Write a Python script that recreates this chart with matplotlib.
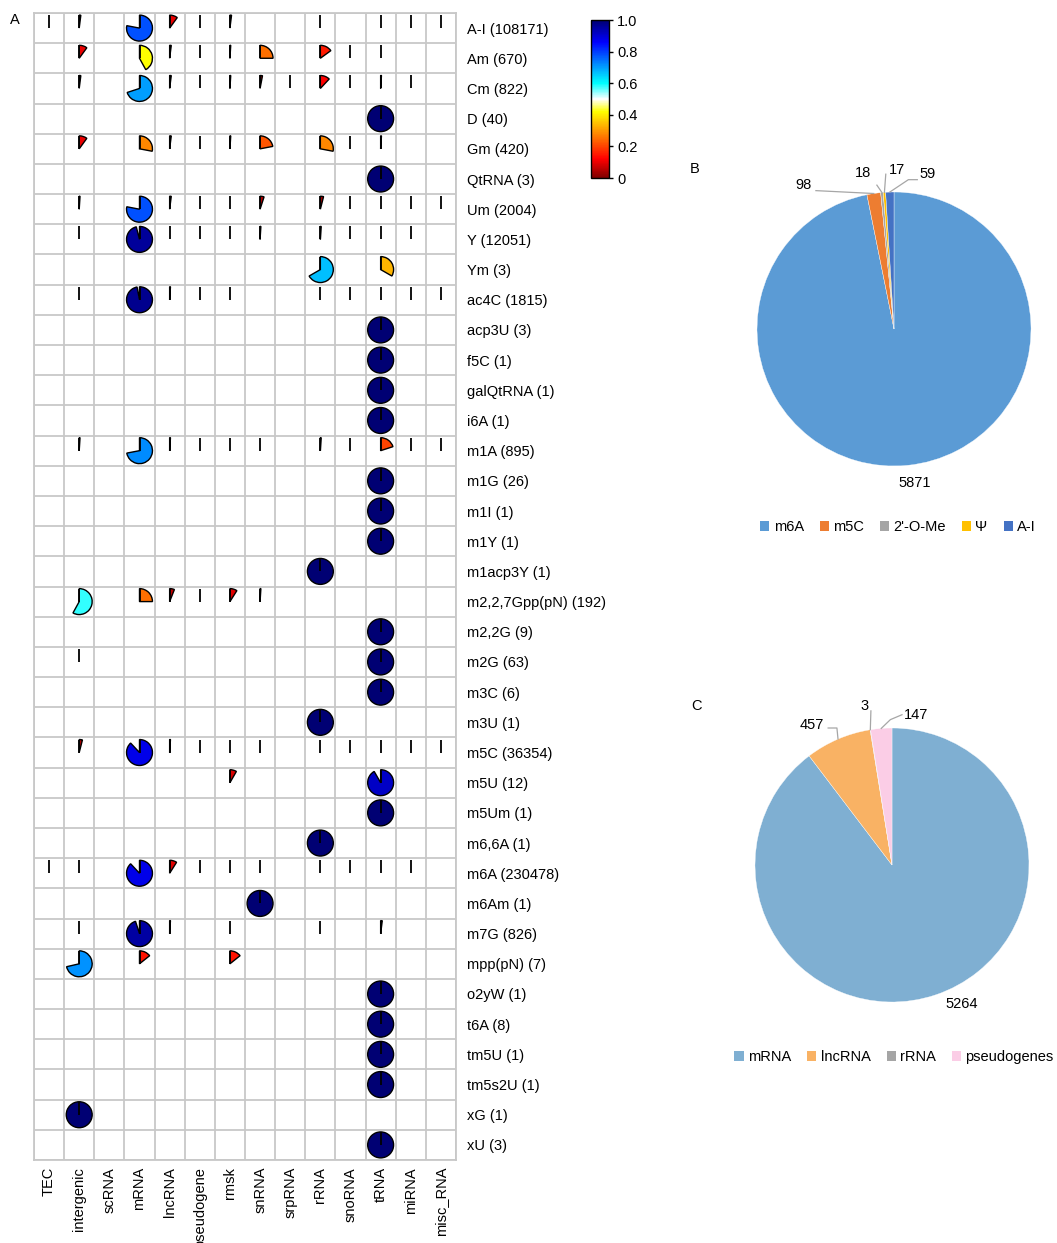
import numpy as np
import matplotlib
matplotlib.use("Agg")
import matplotlib.pyplot as plt
from matplotlib.patches import Wedge, Patch
from matplotlib.colors import LinearSegmentedColormap, Normalize
from matplotlib.cm import ScalarMappable

plt.rcParams['font.family'] = ['Liberation Sans', 'DejaVu Sans']
plt.rcParams['font.size'] = 10.5

n = np.nan

# modifications (rows) and RNA biotypes (columns)
mods = ['A-I', 'Am', 'Cm', 'D', 'Gm', 'QtRNA', 'Um', 'Y', 'Ym', 'ac4C',
        'acp3U', 'f5C', 'galQtRNA', 'i6A', 'm1A', 'm1G', 'm1I', 'm1Y',
        'm1acp3Y', 'm2,2,7Gpp(pN)', 'm2,2G', 'm2G', 'm3C', 'm3U', 'm5C',
        'm5U', 'm5Um', 'm6,6A', 'm6A', 'm6Am', 'm7G', 'mpp(pN)', 'o2yW',
        't6A', 'tm5U', 'tm5s2U', 'xG', 'xU']
mod_counts = [108171, 670, 822, 40, 420, 3, 2004, 12051, 3, 1815,
              3, 1, 1, 1, 895, 26, 1, 1,
              1, 192, 9, 63, 6, 1, 36354,
              12, 1, 1, 230478, 1, 826, 7, 1,
              8, 1, 1, 1, 3]
biotypes = ['TEC', 'intergenic', 'scRNA', 'mRNA', 'lncRNA', 'pseudogene',
            'rmsk', 'snRNA', 'srpRNA', 'rRNA', 'snoRNA', 'tRNA', 'miRNA',
            'misc_RNA']

# fraction of sites of each modification falling in each biotype
#        TEC  interg scRNA mRNA  lncRNA pseudo rmsk  snRNA srpRNA rRNA  snoRNA tRNA  miRNA misc
frac = np.array([
    [0,    0.02,  n,   0.78,  0.10,  0,    0.02,  n,    n,    0,     n,    0,     0,    0],     # A-I
    [n,    0.10,  n,   0.42,  0.02,  0,    0.01,  0.25, n,    0.15,  0,    0,     n,    n],     # Am
    [n,    0.02,  n,   0.70,  0.02,  0,    0.01,  0.03, 0,    0.12,  0,    0.01,  0,    n],     # Cm
    [n,    n,     n,   n,     n,     n,    n,     n,    n,    n,     n,    1,     n,    n],     # D
    [n,    0.10,  n,   0.28,  0.02,  0,    0.01,  0.22, n,    0.28,  0,    0.01,  n,    n],     # Gm
    [n,    n,     n,   n,     n,     n,    n,     n,    n,    n,     n,    1,     n,    n],     # QtRNA
    [n,    0.01,  n,   0.78,  0.02,  0,    0,     0.05, n,    0.04,  0,    0,     0,    0],     # Um
    [n,    0,     n,   0.96,  0,     0,    0,     0.01, n,    0.01,  0,    0,     0,    n],     # Y
    [n,    n,     n,   n,     n,     n,    n,     n,    n,    0.667, n,    0.333, n,    n],     # Ym
    [n,    0,     n,   0.97,  0.01,  0,    0,     n,    n,    0,     0,    0,     0,    0],     # ac4C
    [n,    n,     n,   n,     n,     n,    n,     n,    n,    n,     n,    1,     n,    n],     # acp3U
    [n,    n,     n,   n,     n,     n,    n,     n,    n,    n,     n,    1,     n,    n],     # f5C
    [n,    n,     n,   n,     n,     n,    n,     n,    n,    n,     n,    1,     n,    n],     # galQtRNA
    [n,    n,     n,   n,     n,     n,    n,     n,    n,    n,     n,    1,     n,    n],     # i6A
    [n,    0.01,  n,   0.72,  0.01,  0,    0,     0,    n,    0.01,  0,    0.20,  0,    0],     # m1A
    [n,    n,     n,   n,     n,     n,    n,     n,    n,    n,     n,    1,     n,    n],     # m1G
    [n,    n,     n,   n,     n,     n,    n,     n,    n,    n,     n,    1,     n,    n],     # m1I
    [n,    n,     n,   n,     n,     n,    n,     n,    n,    n,     n,    1,     n,    n],     # m1Y
    [n,    n,     n,   n,     n,     n,    n,     n,    n,    1,     n,    n,     n,    n],     # m1acp3Y
    [n,    0.58,  n,   0.25,  0.06,  0,    0.09,  0.01, n,    n,     n,    n,     n,    n],     # m2,2,7Gpp(pN)
    [n,    n,     n,   n,     n,     n,    n,     n,    n,    n,     n,    1,     n,    n],     # m2,2G
    [n,    0,     n,   n,     n,     n,    n,     n,    n,    n,     n,    1,     n,    n],     # m2G
    [n,    n,     n,   n,     n,     n,    n,     n,    n,    n,     n,    1,     n,    n],     # m3C
    [n,    n,     n,   n,     n,     n,    n,     n,    n,    1,     n,    n,     n,    n],     # m3U
    [n,    0.04,  n,   0.88,  0.01,  0,    0,     0,    n,    0,     0,    0,     0,    0],     # m5C
    [n,    n,     n,   n,     n,     n,    0.083, n,    n,    n,     n,    0.917, n,    n],     # m5U
    [n,    n,     n,   n,     n,     n,    n,     n,    n,    n,     n,    1,     n,    n],     # m5Um
    [n,    n,     n,   n,     n,     n,    n,     n,    n,    1,     n,    n,     n,    n],     # m6,6A
    [0,    0,     n,   0.88,  0.09,  0,    0,     0,    n,    0,     0,    0,     0,    n],     # m6A
    [n,    n,     n,   n,     n,     n,    n,     1,    n,    n,     n,    n,     n,    n],     # m6Am
    [n,    0,     n,   0.95,  0.01,  n,    0,     n,    n,    0,     n,    0.02,  n,    n],     # m7G
    [n,    0.714, n,   0.143, n,     n,    0.143, n,    n,    n,     n,    n,     n,    n],     # mpp(pN)
    [n,    n,     n,   n,     n,     n,    n,     n,    n,    n,     n,    1,     n,    n],     # o2yW
    [n,    n,     n,   n,     n,     n,    n,     n,    n,    n,     n,    1,     n,    n],     # t6A
    [n,    n,     n,   n,     n,     n,    n,     n,    n,    n,     n,    1,     n,    n],     # tm5U
    [n,    n,     n,   n,     n,     n,    n,     n,    n,    n,     n,    1,     n,    n],     # tm5s2U
    [n,    1,     n,   n,     n,     n,    n,     n,    n,    n,     n,    n,     n,    n],     # xG
    [n,    n,     n,   n,     n,     n,    n,     n,    n,    n,     n,    1,     n,    n],     # xU
])

# pie B: modification types
b_names = ['m6A', 'm5C', "2'-O-Me", 'Ψ', 'A-I']
b_counts = [5871, 98, 18, 17, 59]
b_colors = ['#5b9bd5', '#ed7d31', '#a5a5a5', '#ffc000', '#4472c4']

# pie C: RNA types
c_names = ['mRNA', 'lncRNA', 'rRNA', 'pseudogenes']
c_counts = [5264, 457, 3, 147]
c_colors = ['#7fafd2', '#f9b264', '#a5a5a5', '#fbcde6']

W, H = 1057, 1243
fig = plt.figure(figsize=(W / 100, H / 100), dpi=100)


def px_box(x0, y0, x1, y1):
    return [x0 / W, 1 - y1 / H, (x1 - x0) / W, (y1 - y0) / H]


cmap = LinearSegmentedColormap.from_list('frac', [
    (0.00, (0.50, 0.00, 0.00)),
    (0.12, (1.00, 0.00, 0.00)),
    (0.27, (1.00, 0.50, 0.00)),
    (0.42, (1.00, 1.00, 0.00)),
    (0.50, (1.00, 1.00, 1.00)),
    (0.60, (0.00, 1.00, 1.00)),
    (0.72, (0.00, 0.55, 1.00)),
    (0.86, (0.00, 0.00, 1.00)),
    (1.00, (0.00, 0.00, 0.45)),
])

# ---- panel A: pie glyph grid ----
ax = fig.add_axes(px_box(34, 13, 456, 1160))
nrow, ncol = frac.shape
ax.set_xlim(0, ncol)
ax.set_ylim(0, nrow)
grid_c = '#c8c8c8'
for x in range(ncol + 1):
    ax.axvline(x, color=grid_c, lw=1.3, zorder=1)
for y in range(nrow + 1):
    ax.axhline(y, color=grid_c, lw=1.3, zorder=1)
for s in ax.spines.values():
    s.set_color(grid_c)
    s.set_linewidth(1.3)

r = 0.43
for i in range(nrow):
    cy = nrow - 1 - i + 0.5
    for j in range(ncol):
        v = frac[i, j]
        if np.isnan(v):
            continue
        cx = j + 0.5
        if v > 0:
            ax.add_patch(Wedge((cx, cy), r, 90 - 360 * v, 90,
                               facecolor=cmap(v), edgecolor='black',
                               lw=1.0, zorder=3))
        ax.plot([cx, cx], [cy, cy + r], color='black', lw=1.3,
                solid_capstyle='butt', zorder=4)

ax.set_xticks(np.arange(ncol) + 0.5)
ax.set_xticklabels(biotypes, rotation=90, va='top')
ax.set_yticks(nrow - 1 - np.arange(nrow) + 0.5)
ax.set_yticklabels([f'{m} ({c})' for m, c in zip(mods, mod_counts)])
ax.yaxis.tick_right()
ax.tick_params(axis='both', length=0)
ax.tick_params(axis='y', pad=8)
ax.tick_params(axis='x', pad=5)
fig.text(15 / W, 1 - 20 / H, 'A', ha='center', va='center')

# colour bar
cax = fig.add_axes(px_box(591, 20, 609, 178))
cb = fig.colorbar(ScalarMappable(Normalize(0, 1), cmap), cax=cax,
                  ticks=[0, 0.2, 0.4, 0.6, 0.8, 1.0])
cb.ax.set_yticklabels(['0', '0.2', '0.4', '0.6', '0.8', '1.0'])
cb.outline.set_linewidth(1.0)
cax.tick_params(length=3, width=1, pad=3)


# ---- panels B and C: summary pies ----
def summary_pie(cx, cy, rad, counts, colors, names, label_xy, leaders,
                legend_xy, tag, tag_xy):
    half = 150
    pax = fig.add_axes(px_box(cx - half, cy - half, cx + half, cy + half))
    wedges, _ = pax.pie(counts, colors=colors, startangle=90,
                        counterclock=False, radius=1,
                        wedgeprops=dict(edgecolor='white', linewidth=0.25))
    lim = half / rad
    pax.set_xlim(-lim, lim)
    pax.set_ylim(-lim, lim)
    for k, w in enumerate(wedges):
        mid = np.deg2rad((w.theta1 + w.theta2) / 2)
        lx, ly = label_xy[k]
        pax.text(lx, ly, str(counts[k]), ha='center', va='center',
                 fontsize=10.5)
        pts = leaders.get(k)
        if pts:
            xs = [p[0] for p in pts] + [np.cos(mid)]
            ys = [p[1] for p in pts] + [np.sin(mid)]
            pax.plot(xs, ys, color='#a6a6a6', lw=0.9, clip_on=False)
    handles = [Patch(facecolor=c, edgecolor='none') for c in colors]
    fig.legend(handles, names, loc='center', ncol=len(names),
               bbox_to_anchor=(legend_xy[0] / W, 1 - legend_xy[1] / H),
               frameon=False, handlelength=0.62, handleheight=0.62,
               handletextpad=0.3, columnspacing=1.1, fontsize=10.5)
    fig.text(tag_xy[0] / W, 1 - tag_xy[1] / H, tag, ha='center', va='center')


summary_pie(894, 329, 137, b_counts, b_colors, b_names,
            label_xy=[(0.153, -1.124), (-0.662, 1.051), (-0.224, 1.136),
                      (0.02, 1.16), (0.243, 1.131)],
            leaders={1: [(-0.57, 1.01)], 2: [(-0.125, 1.05)],
                     3: [(-0.06, 1.13)], 4: [(0.17, 1.09), (0.105, 1.09)]},
            legend_xy=(898, 527), tag='B', tag_xy=(695, 169))

summary_pie(892, 865, 137, c_counts, c_colors, c_names,
            label_xy=[(0.51, -1.012), (-0.585, 1.024), (-0.203, 1.163),
                      (0.178, 1.097)],
            leaders={1: [(-0.466, 1.0), (-0.402, 1.0)],
                     2: [(-0.154, 1.125)],
                     3: [(0.073, 1.097), (-0.012, 1.061)]},
            legend_xy=(894, 1057), tag='C', tag_xy=(696, 706))

fig.savefig('out.png', dpi=100)
